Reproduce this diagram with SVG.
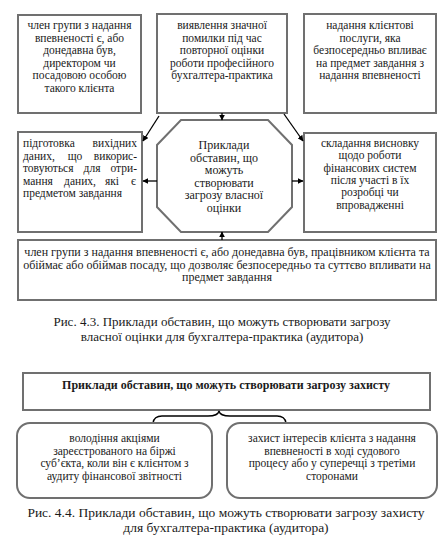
<svg xmlns="http://www.w3.org/2000/svg" width="440" height="543" viewBox="0 0 440 543">
<defs>
<style>
.box{fill:#fff;stroke:#707070;stroke-width:2}
.t{font-family:"Liberation Serif","Times New Roman","DejaVu Serif",serif;font-size:11.5px;fill:#1a1a1a}
.c{text-anchor:middle}
.e{text-anchor:end}
.cap{font-family:"Liberation Serif","Times New Roman","DejaVu Serif",serif;font-size:13px;fill:#1a1a1a;text-anchor:middle}
.b{font-weight:bold}
.arr{stroke:#000;stroke-width:1.3;fill:none;marker-end:url(#ah)}
</style>
<marker id="ah" viewBox="0 0 10 10" refX="9" refY="5" markerWidth="6" markerHeight="6" orient="auto" markerUnits="userSpaceOnUse">
<path d="M0,0 L10,5 L0,10 Z" fill="#000"/>
</marker>
</defs>
<rect width="440" height="543" fill="#fff"/>

<g id="box-top-left">
<rect class="box" x="18" y="15" width="123" height="98"/>
<text class="t c" x="79.5" y="29"><tspan x="79.5">член групи з надання</tspan><tspan x="79.5" dy="12.5">впевненості є, або</tspan><tspan x="79.5" dy="12.5">донедавна був,</tspan><tspan x="79.5" dy="12.5">директором чи</tspan><tspan x="79.5" dy="12.5">посадовою особою</tspan><tspan x="79.5" dy="12.5">такого клієнта</tspan></text>
</g>

<g id="box-top-middle">
<rect class="box" x="157" y="14" width="130" height="99"/>
<text class="t c" x="222" y="29"><tspan x="222">виявлення значної</tspan><tspan x="222" dy="12.5">помилки під час</tspan><tspan x="222" dy="12.5">повторної оцінки</tspan><tspan x="222" dy="12.5">роботи професійного</tspan><tspan x="222" dy="12.5">бухгалтера-практика</tspan></text>
</g>

<g id="box-top-right">
<rect class="box" x="304" y="14" width="132" height="99"/>
<text class="t c" x="370" y="29"><tspan x="370">надання клієнтові</tspan><tspan x="370" dy="12.5">послуги, яка</tspan><tspan x="370" dy="12.5">безпосередньо впливає</tspan><tspan x="370" dy="12.5">на предмет завдання з</tspan><tspan x="370" dy="12.5">надання впевненості</tspan></text>
</g>

<g id="box-mid-left">
<rect class="box" x="18" y="132" width="124" height="100"/>
<text class="t" x="23" y="147">підготовка</text>
<text class="t e" x="137" y="147">вихідних</text>
<text class="t" x="23" y="159.5">даних,</text>
<text class="t c" x="75" y="159.5">що</text>
<text class="t e" x="137" y="159.5">викорис-</text>
<text class="t" x="23" y="172">товуються</text>
<text class="t c" x="92" y="172">для</text>
<text class="t e" x="137" y="172">отри-</text>
<text class="t" x="23" y="184.5">мання</text>
<text class="t c" x="80" y="184.5">даних,</text>
<text class="t c" x="112" y="184.5">які</text>
<text class="t e" x="136" y="184.5">є</text>
<text class="t" x="23" y="197">предметом завдання</text>
</g>

<g id="octagon-center">
<polygon class="box" points="181,120 268,120 292,145 292,207 268,232 181,232 157,207 157,145"/>
<text class="t c" x="224" y="149" style="font-size:12px"><tspan x="224">Приклади</tspan><tspan x="224" dy="12.5">обставин, що</tspan><tspan x="224" dy="12.5">можуть</tspan><tspan x="224" dy="12.5">створювати</tspan><tspan x="224" dy="12.5">загрозу власної</tspan><tspan x="224" dy="12.5">оцінки</tspan></text>
</g>

<g id="box-mid-right">
<rect class="box" x="304" y="133" width="132" height="99"/>
<text class="t c" x="370" y="147"><tspan x="370">складання висновку</tspan><tspan x="370" dy="12.3">щодо роботи</tspan><tspan x="370" dy="12.3">фінансових систем</tspan><tspan x="370" dy="12.3">після участі в їх</tspan><tspan x="370" dy="12.3">розробці чи</tspan><tspan x="370" dy="12.3">впровадженні</tspan></text>
</g>

<g id="box-bottom">
<rect class="box" x="18" y="240" width="418" height="60"/>
<text class="t c" x="227" y="256" style="font-size:12px"><tspan x="227">член групи з надання впевненості є, або донедавна був, працівником клієнта та</tspan><tspan x="227" dy="12.5">обіймає або обіймав посаду, що дозволяє безпосередньо та суттєво впливати на</tspan><tspan x="227" dy="12.5">предмет завдання</tspan></text>
</g>

<g id="connectors">
<line class="arr" x1="222" y1="113" x2="222" y2="120"/>
<line class="arr" x1="159" y1="116" x2="143" y2="141"/>
<line class="arr" x1="284" y1="114" x2="303" y2="141"/>
<line class="arr" x1="157" y1="181" x2="143" y2="181"/>
<line class="arr" x1="292" y1="181" x2="303" y2="181"/>
<line class="arr" x1="222" y1="240" x2="222" y2="232"/>
</g>

<g id="caption-1">
<text class="cap" x="222" y="326">Рис. 4.3. Приклади обставин, що можуть створювати загрозу</text>
<text class="cap" x="222" y="341">власної оцінки для бухгалтера-практика (аудитора)</text>
</g>

<g id="box-title-2">
<rect class="box" x="23" y="373" width="407" height="37"/>
<text class="t c b" x="226" y="389" style="font-size:12px">Приклади обставин, що можуть створювати загрозу захисту</text>
</g>

<g id="brace">
<path d="M153,423 Q154,416 162,416 L208,416 Q218,416 219,411 Q220,416 230,416 L277,416 Q285,416 286,423" fill="none" stroke="#000" stroke-width="1.3"/>
</g>

<g id="box-round-left">
<rect class="box" x="17" y="423" width="195" height="75" rx="13" ry="13"/>
<text class="t c" x="114.5" y="442"><tspan x="114.5">володіння акціями</tspan><tspan x="114.5" dy="12.5">зареєстрованого на біржі</tspan><tspan x="114.5" dy="12.5">суб’єкта, коли він є клієнтом з</tspan><tspan x="114.5" dy="12.5">аудиту фінансової звітності</tspan></text>
</g>

<g id="box-round-right">
<rect class="box" x="227" y="423" width="210" height="75" rx="13" ry="13"/>
<text class="t c" x="332" y="442"><tspan x="332">захист інтересів клієнта з надання</tspan><tspan x="332" dy="12.5">впевненості в ході судового</tspan><tspan x="332" dy="12.5">процесу або у суперечці з третіми</tspan><tspan x="332" dy="12.5">сторонами</tspan></text>
</g>

<g id="caption-2">
<text class="cap" x="226" y="517" style="font-size:13.5px">Рис. 4.4. Приклади обставин, що можуть створювати загрозу захисту</text>
<text class="cap" x="226" y="532" style="font-size:13.5px">для бухгалтера-практика (аудитора)</text>
</g>
</svg>
